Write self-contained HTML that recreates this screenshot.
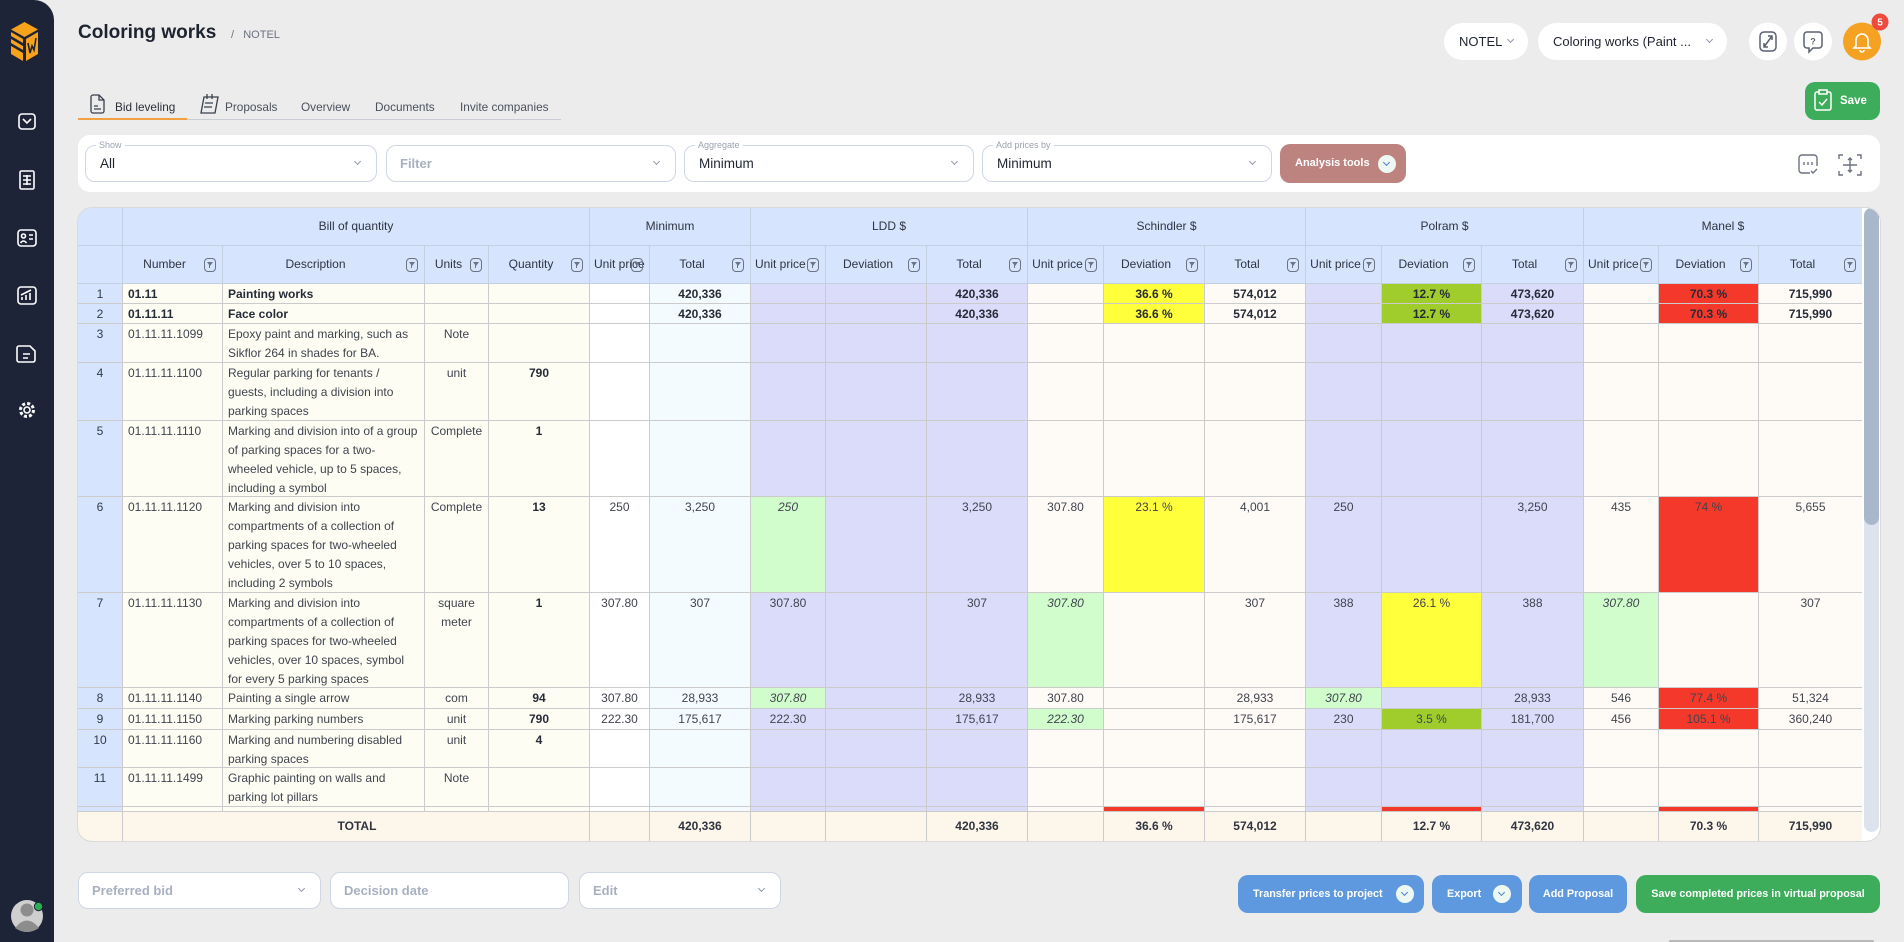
<!DOCTYPE html>
<html><head><meta charset="utf-8">
<style>
*{box-sizing:border-box}
body{margin:0;width:1904px;height:942px;background:#ececec;font-family:"Liberation Sans",Arial,sans-serif;position:relative;overflow:hidden;color:#1f2430}
.a{position:absolute}
.title{left:78px;top:22px;font-size:19px;font-weight:bold;line-height:22px;color:#1e2330}
.crumb{left:231px;top:28px;font-size:11px;line-height:14px;color:#6b7180}
.pill{top:23px;height:37px;background:#fff;border-radius:19px;font-size:13px;line-height:37px;color:#1f2430}
.chev{position:absolute;width:5px;height:5px;border-right:1.4px solid #8e97a7;border-bottom:1.4px solid #8e97a7;transform:rotate(45deg)}
.tab{top:100px;font-size:11.8px;line-height:14px;color:#4a505c}
.card{background:#fff;border-radius:12px}
.dd{height:37px;border:1px solid #cfd6e4;border-radius:10px;background:#fff;top:145px}
.dd .lab{position:absolute;top:-7px;left:10px;background:#fff;padding:0 3px;font-size:9px;line-height:12px;color:#9aa1ae}
.dd .val{position:absolute;left:14px;top:0;line-height:35px;font-size:13.5px;color:#1f2430}
.dd .ph{position:absolute;left:13px;top:0;line-height:35px;font-size:13px;color:#a8b0c0;font-weight:bold}
.dd .chev{right:16px;top:13px}
.btn{border-radius:10px;color:#fff;font-weight:bold;font-size:10.8px}
.blue{background:#5e98de}
.green{background:#3dad5b}
.cc{position:absolute;width:18px;height:18px;border-radius:50%;background:#eef8f2}
.cc::after{content:"";position:absolute;left:6px;top:5px;width:4px;height:4px;border-right:1.5px solid #4a7fd0;border-bottom:1.5px solid #4a7fd0;transform:rotate(45deg)}
/* table */
.tcard{left:78px;top:208px;width:1802px;height:633px;background:#fff;border-radius:14px;overflow:hidden;box-shadow:0 0 0 1px #dadada}
.tb{position:absolute;left:0;top:0;width:1784px;--c:44px 99px 201px 63px 100px 59px 100px 74px 100px 100px 75px 100px 100px 75px 99px 101px 74px 99px 103px}
.hd{display:grid;grid-template-columns:var(--c);column-gap:1px;background:#c4cfe2;padding-bottom:1px}
.hd>div{background:#d6e4fd;font-size:12px;color:#2e3441;text-align:center;white-space:nowrap;position:relative;line-height:37px}
.h2>div{padding:0 20px 0 4px;overflow:hidden}
.h2>div:first-child{padding:0}
.fi{position:absolute;right:6px;top:12px;width:12px;height:14px;border:1.3px solid #6c7383;border-radius:4px}
.fi::before{content:"";position:absolute;left:1.7px;top:2.5px;border-style:solid;border-width:4px 3px 0;border-color:#6c7383 transparent transparent}
.fi::after{content:"";position:absolute;left:4px;top:5.5px;width:1.3px;height:3.5px;background:#6c7383}
.rw{display:grid;grid-template-columns:var(--c);column-gap:1px;background:#cbcbcb;padding-bottom:1px}
.rw>div{padding:1px 3px 0;font-size:12px;line-height:19px;color:#40444f;text-align:center;white-space:nowrap;overflow:hidden}
.rw>div:nth-child(1){background:#d6e4fd;color:#333a48}
.rw>div:nth-child(2),.rw>div:nth-child(3){text-align:left;padding-left:5px}
.rw>div:nth-child(n+2):nth-child(-n+5){background:#fdfdf3}
.rw>div:nth-child(6){background:#ffffff}
.rw>div:nth-child(7){background:#f3fbfe}
.rw>div:nth-child(n+8):nth-child(-n+10),.rw>div:nth-child(n+14):nth-child(-n+16){background:#dadcfa}
.rw>div:nth-child(n+11):nth-child(-n+13),.rw>div:nth-child(n+17){background:#fefaf6}
.rw>div.b{font-weight:bold;color:#262b38}
.rw>div.y{background:#ffff3b!important}
.rw>div.g{background:#a0cd2b!important}
.rw>div.r{background:#f4392a!important}
.rw>div.lg{background:#d1fdcc!important;font-style:italic}
.tt>div{background:#fdf6ea!important;font-weight:bold;color:#2f3440!important;text-align:center!important;line-height:28px!important;padding-top:0!important}
</style></head>
<body>

<!-- sidebar -->
<div class="a" style="left:0;top:0;width:54px;height:942px;background:#1d2437;border-radius:0 20px 0 0"></div>
<svg class="a" style="left:0;top:0" width="54" height="942" viewBox="0 0 54 942">
 <polygon points="24.5,22 38,29.5 24.5,37 11,29.5" fill="#f7a21b"/>
 <path d="M11,32 L23,39 L23,43 L11,36Z M11,39 L23,46 L23,50 L11,43Z M11,46 L23,53 L23,61 L11,54Z" fill="#f7a21b"/>
 <path d="M26,39 L38,32 L38,54 L26,61Z" fill="#f7a21b"/>
 <path d="M28,43 L30,53 L32,46 L34,50 L36,38" stroke="#1d2437" stroke-width="1.6" fill="none"/>
 <g fill="none" stroke="#fff" stroke-width="1.6">
  <rect x="19" y="114" width="16" height="15" rx="3"/><path d="M23,119 L27,123 L31,119"/>
  <rect x="20" y="171" width="14" height="18" rx="1.5"/><path d="M23,176h8M23,180h8M23,184h8M27,175v10"/>
  <rect x="18" y="230" width="18" height="16" rx="3"/><circle cx="23.5" cy="236" r="2"/><path d="M20.5,243q3,-4 6,0M29,235h4M29,239h4"/>
  <rect x="18" y="287" width="18" height="17" rx="3"/><path d="M22,300v-3M26,300v-5M30,300v-7M21,295l10,-5"/>
  <path d="M19,346h11l5,5v9a2,2 0 0 1 -2,2h-14a2,2 0 0 1 -2,-2v-12a2,2 0 0 1 2,-2z M23,354h7M23,358h5"/>
  <circle cx="27" cy="410" r="3"/><circle cx="27" cy="410" r="6.5" stroke-width="3" stroke-dasharray="3 2.1"/>
 </g>
 <circle cx="27" cy="916" r="16" fill="#cfcfcf"/>
 <circle cx="27" cy="910" r="6.5" fill="#8d8d8d"/>
 <path d="M15,928 Q27,913 39,928 Q33,932 27,932 Q21,932 15,928Z" fill="#8d8d8d"/>
 <circle cx="38.5" cy="906.5" r="4.2" fill="#2ab04f" stroke="#1d2437" stroke-width="1"/>
</svg>

<!-- title -->
<div class="a title">Coloring works</div>
<div class="a crumb">/&nbsp;&nbsp;&nbsp;NOTEL</div>

<!-- top right -->
<div class="a pill" style="left:1444px;width:84px"><span style="position:absolute;left:15px">NOTEL</span><span class="chev" style="left:64px;top:14px"></span></div>
<div class="a pill" style="left:1538px;width:189px"><span style="position:absolute;left:15px">Coloring works (Paint ...</span><span class="chev" style="left:169px;top:14px"></span></div>
<svg class="a" style="left:1740px;top:0" width="164" height="70">
 <circle cx="28" cy="41.5" r="19" fill="#fff"/>
 <circle cx="73" cy="41.5" r="19" fill="#fff"/>
 <circle cx="122" cy="41.5" r="19" fill="#f5a122"/>
 <g fill="none" stroke="#5a6170" stroke-width="1.5">
  <rect x="20" y="32" width="16" height="19" rx="4"/><path d="M24,47 L32,36 M28,36h4v4 M24,43v4h4"/>
  <path d="M67,32h12a3,3 0 0 1 3,3v10a3,3 0 0 1 -3,3h-6l-4,4v-4h-2a3,3 0 0 1 -3,-3v-10a3,3 0 0 1 3,-3z"/>
 </g>
 <text x="73" y="44.5" font-size="9" font-weight="bold" fill="#5a6170" text-anchor="middle" font-family="Liberation Sans, sans-serif">?</text>
 <path d="M116,46v-6a6,6 0 0 1 12,0v6l2,2h-16z M120,50a2,2 0 0 0 4,0" fill="none" stroke="#fff" stroke-width="1.6"/>
 <circle cx="140" cy="22" r="8.5" fill="#ee4a3f"/>
 <text x="140" y="25.5" font-size="10" font-weight="bold" fill="#fff" text-anchor="middle" font-family="Liberation Sans, sans-serif">5</text>
</svg>

<!-- tabs -->
<svg class="a" style="left:88px;top:92px" width="140" height="24">
 <g fill="none" stroke="#3a3f4b" stroke-width="1.3">
  <path d="M5,3h6l5,5v11a2,2 0 0 1 -2,2h-9a2,2 0 0 1 -2,-2v-14a2,2 0 0 1 2,-2z M11,3v5h5 M6,14h4M6,17h7"/>
  <path d="M116,5h14l-3,16h-14z M119,2v5M124,2v5M117,11h8M116,15h8"/>
 </g>
</svg>
<div class="a tab" style="left:115px;color:#2a2f3a">Bid leveling</div>
<div class="a tab" style="left:225px">Proposals</div>
<div class="a tab" style="left:301px">Overview</div>
<div class="a tab" style="left:375px">Documents</div>
<div class="a tab" style="left:460px">Invite companies</div>
<div class="a" style="left:78px;top:119px;width:483px;height:1px;background:#c9ccd3"></div>
<div class="a" style="left:78px;top:118px;width:109px;height:2px;background:#f0a040"></div>

<!-- save -->
<div class="a btn green" style="left:1805px;top:82px;width:75px;height:38px"></div>
<svg class="a" style="left:1812px;top:88px" width="24" height="26">
 <path d="M7,4h-2a2,2 0 0 0 -2,2v14a2,2 0 0 0 2,2h12a2,2 0 0 0 2,-2v-14a2,2 0 0 0 -2,-2h-2 M7,2h8v4h-8z M7,14l3,3l5,-6" fill="none" stroke="#fff" stroke-width="1.5"/>
</svg>
<div class="a" style="left:1840px;top:94px;font-size:11.5px;line-height:14px;font-weight:bold;color:#fff">Save</div>

<!-- filter bar -->
<div class="a card" style="left:78px;top:135px;width:1802px;height:57px"></div>
<div class="a dd" style="left:85px;width:292px"><span class="lab">Show</span><span class="val">All</span><span class="chev"></span></div>
<div class="a dd" style="left:386px;width:290px"><span class="ph">Filter</span><span class="chev"></span></div>
<div class="a dd" style="left:684px;width:290px"><span class="lab">Aggregate</span><span class="val">Minimum</span><span class="chev"></span></div>
<div class="a dd" style="left:982px;width:290px"><span class="lab">Add prices by</span><span class="val">Minimum</span><span class="chev"></span></div>
<div class="a btn" style="left:1280px;top:144px;width:126px;height:39px;background:#bd837f"><span style="position:absolute;left:15px;top:12px;font-size:11px;line-height:14px">Analysis tools</span></div>
<span class="cc" style="left:1378px;top:155px"></span>
<svg class="a" style="left:1796px;top:152px" width="70" height="26">
 <g fill="none" stroke="#6b7280" stroke-width="1.4">
  <path d="M14,21h-8a3,3 0 0 1 -3,-3v-12a3,3 0 0 1 3,-3h12a3,3 0 0 1 3,3v8"/>
  <path d="M8,10v3M12,10v3M16,10v3"/>
  <path d="M15,19l2,2l4,-4"/>
  <path d="M47,3h-4v4M61,3h4v4M47,23h-4v-4M61,23h4v-4M54,6v14M47,13h14M52,8l2,-2l2,2M52,18l2,2l2,-2"/>
 </g>
</svg>

<!-- table -->
<div class="a tcard">
 <div class="tb">
  <div class="hd h1" style="height:38px">
   <div></div>
   <div style="grid-column:span 4">Bill of quantity</div>
   <div style="grid-column:span 2">Minimum</div>
   <div style="grid-column:span 3">LDD $</div>
   <div style="grid-column:span 3">Schindler $</div>
   <div style="grid-column:span 3">Polram $</div>
   <div style="grid-column:span 3">Manel $</div>
  </div>
  <div class="hd h2" style="height:38px">
   <div></div>
   <div>Number<i class="fi"></i></div>
   <div>Description<i class="fi"></i></div>
   <div>Units<i class="fi"></i></div>
   <div>Quantity<i class="fi"></i></div>
   <div>Unit price<i class="fi"></i></div>
   <div>Total<i class="fi"></i></div>
   <div>Unit price<i class="fi"></i></div>
   <div>Deviation<i class="fi"></i></div>
   <div>Total<i class="fi"></i></div>
   <div>Unit price<i class="fi"></i></div>
   <div>Deviation<i class="fi"></i></div>
   <div>Total<i class="fi"></i></div>
   <div>Unit price<i class="fi"></i></div>
   <div>Deviation<i class="fi"></i></div>
   <div>Total<i class="fi"></i></div>
   <div>Unit price<i class="fi"></i></div>
   <div>Deviation<i class="fi"></i></div>
   <div>Total<i class="fi"></i></div>
  </div>

  <div class="rw" style="height:20px"><div>1</div><div class="b">01.11</div><div class="b">Painting works</div><div></div><div></div><div></div><div class="b">420,336</div><div></div><div></div><div class="b">420,336</div><div></div><div class="b y">36.6 %</div><div class="b">574,012</div><div></div><div class="b g">12.7 %</div><div class="b">473,620</div><div></div><div class="b r">70.3 %</div><div class="b">715,990</div></div>

  <div class="rw" style="height:20px"><div>2</div><div class="b">01.11.11</div><div class="b">Face color</div><div></div><div></div><div></div><div class="b">420,336</div><div></div><div></div><div class="b">420,336</div><div></div><div class="b y">36.6 %</div><div class="b">574,012</div><div></div><div class="b g">12.7 %</div><div class="b">473,620</div><div></div><div class="b r">70.3 %</div><div class="b">715,990</div></div>

  <div class="rw" style="height:39px"><div>3</div><div>01.11.11.1099</div><div>Epoxy paint and marking, such as<br>Sikflor 264 in shades for BA.</div><div>Note</div><div></div><div></div><div></div><div></div><div></div><div></div><div></div><div></div><div></div><div></div><div></div><div></div><div></div><div></div><div></div></div>

  <div class="rw" style="height:58px"><div>4</div><div>01.11.11.1100</div><div>Regular parking for tenants /<br>guests, including a division into<br>parking spaces</div><div>unit</div><div class="b">790</div><div></div><div></div><div></div><div></div><div></div><div></div><div></div><div></div><div></div><div></div><div></div><div></div><div></div><div></div></div>

  <div class="rw" style="height:76px"><div>5</div><div>01.11.11.1110</div><div>Marking and division into of a group<br>of parking spaces for a two-<br>wheeled vehicle, up to 5 spaces,<br>including a symbol</div><div>Complete</div><div class="b">1</div><div></div><div></div><div></div><div></div><div></div><div></div><div></div><div></div><div></div><div></div><div></div><div></div><div></div><div></div></div>

  <div class="rw" style="height:96px"><div>6</div><div>01.11.11.1120</div><div>Marking and division into<br>compartments of a collection of<br>parking spaces for two-wheeled<br>vehicles, over 5 to 10 spaces,<br>including 2 symbols</div><div>Complete</div><div class="b">13</div><div>250</div><div>3,250</div><div class="lg">250</div><div></div><div>3,250</div><div>307.80</div><div class="y">23.1 %</div><div>4,001</div><div>250</div><div></div><div>3,250</div><div>435</div><div class="r">74 %</div><div>5,655</div></div>

  <div class="rw" style="height:95px"><div>7</div><div>01.11.11.1130</div><div>Marking and division into<br>compartments of a collection of<br>parking spaces for two-wheeled<br>vehicles, over 10 spaces, symbol<br>for every 5 parking spaces</div><div>square<br>meter</div><div class="b">1</div><div>307.80</div><div>307</div><div>307.80</div><div></div><div>307</div><div class="lg">307.80</div><div></div><div>307</div><div>388</div><div class="y">26.1 %</div><div>388</div><div class="lg">307.80</div><div></div><div>307</div></div>

  <div class="rw" style="height:21px"><div>8</div><div>01.11.11.1140</div><div>Painting a single arrow</div><div>com</div><div class="b">94</div><div>307.80</div><div>28,933</div><div class="lg">307.80</div><div></div><div>28,933</div><div>307.80</div><div></div><div>28,933</div><div class="lg">307.80</div><div></div><div>28,933</div><div>546</div><div class="r">77.4 %</div><div>51,324</div></div>

  <div class="rw" style="height:21px"><div>9</div><div>01.11.11.1150</div><div>Marking parking numbers</div><div>unit</div><div class="b">790</div><div>222.30</div><div>175,617</div><div>222.30</div><div></div><div>175,617</div><div class="lg">222.30</div><div></div><div>175,617</div><div>230</div><div class="g">3.5 %</div><div>181,700</div><div>456</div><div class="r">105.1 %</div><div>360,240</div></div>

  <div class="rw" style="height:38px"><div>10</div><div>01.11.11.1160</div><div>Marking and numbering disabled<br>parking spaces</div><div>unit</div><div class="b">4</div><div></div><div></div><div></div><div></div><div></div><div></div><div></div><div></div><div></div><div></div><div></div><div></div><div></div><div></div></div>

  <div class="rw" style="height:39px"><div>11</div><div>01.11.11.1499</div><div>Graphic painting on walls and<br>parking lot pillars</div><div>Note</div><div></div><div></div><div></div><div></div><div></div><div></div><div></div><div></div><div></div><div></div><div></div><div></div><div></div><div></div><div></div></div>

  <div class="rw" style="height:5px"><div></div><div></div><div></div><div></div><div></div><div></div><div></div><div></div><div></div><div></div><div></div><div class="r"></div><div></div><div></div><div class="r"></div><div></div><div></div><div class="r"></div><div></div></div>

  <div class="rw tt" style="height:29px;padding-bottom:0"><div></div><div style="grid-column:span 4">TOTAL</div><div></div><div>420,336</div><div></div><div></div><div>420,336</div><div></div><div>36.6 %</div><div>574,012</div><div></div><div>12.7 %</div><div>473,620</div><div></div><div>70.3 %</div><div>715,990</div></div>
 </div>
 <div class="a" style="left:1786px;top:0;width:15px;height:624px;background:#dde3ed;border-radius:8px"></div>
 <div class="a" style="left:1786px;top:0;width:15px;height:317px;background:#a9b7cb;border-radius:8px"></div>
</div>

<!-- bottom controls -->
<div class="a dd" style="left:78px;top:872px;width:243px"><span class="ph">Preferred bid</span><span class="chev"></span></div>
<div class="a dd" style="left:330px;top:872px;width:239px"><span class="ph">Decision date</span></div>
<div class="a dd" style="left:579px;top:872px;width:202px"><span class="ph">Edit</span><span class="chev"></span></div>

<div class="a btn blue" style="left:1238px;top:875px;width:186px;height:38px"><span style="position:absolute;left:15px;top:12px;line-height:14px">Transfer prices to project</span></div>
<span class="cc" style="left:1396px;top:885px"></span>
<div class="a btn blue" style="left:1432px;top:875px;width:90px;height:38px"><span style="position:absolute;left:15px;top:12px;line-height:14px">Export</span></div>
<span class="cc" style="left:1493px;top:885px"></span>
<div class="a btn blue" style="left:1529px;top:875px;width:98px;height:38px;text-align:center;line-height:38px">Add Proposal</div>
<div class="a btn green" style="left:1636px;top:875px;width:244px;height:38px;text-align:center;line-height:38px">Save completed prices in virtual proposal</div>

<div class="a" style="left:1669px;top:940px;width:205px;height:2px;background:#b9b9b9;border-radius:1px"></div>
</body></html>
